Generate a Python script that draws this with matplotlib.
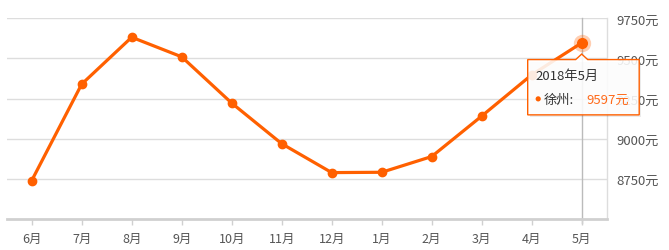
import matplotlib
matplotlib.use("Agg")
import matplotlib.pyplot as plt
from matplotlib.patches import Polygon, Circle

plt.rcParams['font.family'] = ['Noto Sans CJK SC', 'DejaVu Sans']

months = ['6月', '7月', '8月', '9月', '10月', '11月', '12月', '1月', '2月', '3月', '4月', '5月']
prices = [8739, 9340, 9632, 9510, 9222, 8969, 8789, 8791, 8889, 9141, 9398, 9597]
yticks = [8750, 9000, 9250, 9500, 9750]
city = '徐州'
tip_title = '2018年5月'

ORANGE = '#ff6000'
W, H = 669, 251
fig = plt.figure(figsize=(W / 100, H / 100), dpi=100)
ax = fig.add_axes([6.7 / W, 1 - 220 / H, (606.7 - 6.7) / W, (220 - 19.3) / H])

x = list(range(len(months)))
ax.set_xlim(-0.5, len(months) - 0.5)
ax.set_ylim(8500, 9750)

for v in yticks:
    ax.axhline(v, color='#dddddd', lw=1, zorder=0)

ax.plot(x, prices, color=ORANGE, lw=2.3, marker='o', markersize=6, zorder=3,
        solid_joinstyle='round')

for s in ['top', 'left']:
    ax.spines[s].set_visible(False)
ax.spines['right'].set_color('#dddddd')
ax.spines['right'].set_linewidth(1)
ax.spines['bottom'].set_color('#d0d0d0')
ax.spines['bottom'].set_linewidth(2)

ax.set_xticks(x)
ax.set_xticklabels(months)
ax.tick_params(axis='x', length=4, width=1, color='#d0d0d0', pad=5,
               labelsize=9, labelcolor='#555555')
ax.yaxis.tick_right()
ax.set_yticks(yticks)
ax.set_yticklabels([f'{v}元' for v in yticks])
ax.tick_params(axis='y', length=0, pad=7, labelsize=9.5, labelcolor='#555555')

# hover highlight at the last point
last = len(months) - 1
fig.canvas.draw()
px, py = ax.transData.transform((x[last], prices[last]))
ax.axvline(x[last], color='#bbbbbb', lw=1, zorder=1, ymin=-0.02, clip_on=False)
ax.plot([x[last]], [prices[last]], 'o', color=ORANGE, alpha=0.3, markersize=12.5, zorder=4,
        markeredgewidth=0)
ax.plot([x[last]], [prices[last]], 'o', color=ORANGE, markersize=8, zorder=5,
        markeredgewidth=0)

# tooltip (display coords, y up)
L, R = px - 54, px + 57.5
T, B = py - 16.7, py - 72
shape = [(L, T), (px - 6, T), (px, T + 5.5), (px + 6, T), (R, T), (R, B), (L, B)]
shadow = Polygon([(L + 2, T - 2), (R + 2, T - 2), (R + 2, B - 2), (L + 2, B - 2)],
                 closed=True, transform=None, facecolor='#000000', alpha=0.08,
                 edgecolor='none', zorder=9)
fig.patches.append(shadow)
fig.patches.append(Polygon(shape, closed=True, transform=None, facecolor='white',
                           alpha=0.88, edgecolor='none', zorder=10))
fig.patches.append(Polygon(shape, closed=True, transform=None, facecolor='none',
                           edgecolor=ORANGE, lw=1, zorder=11))

fig.text((px - 46) / W, (py - 33) / H, tip_title, fontsize=9.5, color='#333333',
         ha='left', va='center', zorder=12)
fig.patches.append(Circle((px - 43.5, py - 56), 2.6, transform=None,
                          facecolor=ORANGE, edgecolor='none', zorder=12))
fig.text((px - 37.5) / W, (py - 56) / H, f'{city}:', fontsize=9.5, color='#333333',
         ha='left', va='center', zorder=12)
fig.text((px + 4.3) / W, (py - 56) / H, f'{prices[last]}元', fontsize=9.5, color='#ff6a1a',
         ha='left', va='center', zorder=12)

fig.savefig('out.png', dpi=100)
